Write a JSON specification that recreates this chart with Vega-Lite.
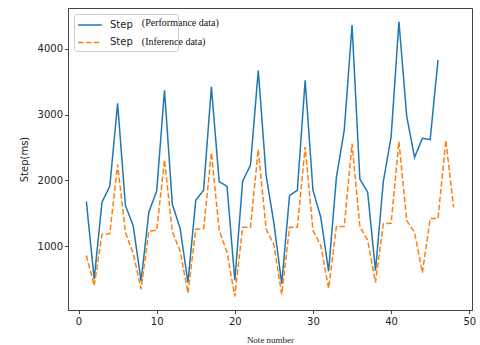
{
  "$schema": "https://vega.github.io/schema/vega-lite/v6.json",
  "width": 404,
  "height": 302,
  "autosize": {"type": "none"},
  "padding": {"left": 68, "top": 8, "right": 8, "bottom": 35},
  "background": "white",
  "config": {
    "view": {"stroke": "#444", "strokeWidth": 1},
    "axis": {
      "grid": false,
      "domainColor": "#444",
      "tickColor": "#444",
      "tickSize": 3.5,
      "labelFont": "DejaVu Sans",
      "labelFontSize": 10,
      "labelColor": "#222",
      "titleColor": "#222",
      "labelPadding": 2
    }
  },
  "layer": [
    {
      "data": {
        "values": [
          {"n": 1, "value": 1680, "series": "Performance"},
          {"n": 2, "value": 500, "series": "Performance"},
          {"n": 3, "value": 1670, "series": "Performance"},
          {"n": 4, "value": 1910, "series": "Performance"},
          {"n": 5, "value": 3170, "series": "Performance"},
          {"n": 6, "value": 1620, "series": "Performance"},
          {"n": 7, "value": 1310, "series": "Performance"},
          {"n": 8, "value": 470, "series": "Performance"},
          {"n": 9, "value": 1520, "series": "Performance"},
          {"n": 10, "value": 1840, "series": "Performance"},
          {"n": 11, "value": 3370, "series": "Performance"},
          {"n": 12, "value": 1640, "series": "Performance"},
          {"n": 13, "value": 1270, "series": "Performance"},
          {"n": 14, "value": 450, "series": "Performance"},
          {"n": 15, "value": 1700, "series": "Performance"},
          {"n": 16, "value": 1850, "series": "Performance"},
          {"n": 17, "value": 3420, "series": "Performance"},
          {"n": 18, "value": 1980, "series": "Performance"},
          {"n": 19, "value": 1910, "series": "Performance"},
          {"n": 20, "value": 480, "series": "Performance"},
          {"n": 21, "value": 1990, "series": "Performance"},
          {"n": 22, "value": 2230, "series": "Performance"},
          {"n": 23, "value": 3670, "series": "Performance"},
          {"n": 24, "value": 2080, "series": "Performance"},
          {"n": 25, "value": 1350, "series": "Performance"},
          {"n": 26, "value": 430, "series": "Performance"},
          {"n": 27, "value": 1770, "series": "Performance"},
          {"n": 28, "value": 1850, "series": "Performance"},
          {"n": 29, "value": 3520, "series": "Performance"},
          {"n": 30, "value": 1850, "series": "Performance"},
          {"n": 31, "value": 1440, "series": "Performance"},
          {"n": 32, "value": 620, "series": "Performance"},
          {"n": 33, "value": 2050, "series": "Performance"},
          {"n": 34, "value": 2760, "series": "Performance"},
          {"n": 35, "value": 4360, "series": "Performance"},
          {"n": 36, "value": 2020, "series": "Performance"},
          {"n": 37, "value": 1820, "series": "Performance"},
          {"n": 38, "value": 630, "series": "Performance"},
          {"n": 39, "value": 1980, "series": "Performance"},
          {"n": 40, "value": 2660, "series": "Performance"},
          {"n": 41, "value": 4410, "series": "Performance"},
          {"n": 42, "value": 2970, "series": "Performance"},
          {"n": 43, "value": 2350, "series": "Performance"},
          {"n": 44, "value": 2640, "series": "Performance"},
          {"n": 45, "value": 2620, "series": "Performance"},
          {"n": 46, "value": 3830, "series": "Performance"},
          {"n": 1, "value": 860, "series": "Inference"},
          {"n": 2, "value": 400, "series": "Inference"},
          {"n": 3, "value": 1180, "series": "Inference"},
          {"n": 4, "value": 1190, "series": "Inference"},
          {"n": 5, "value": 2240, "series": "Inference"},
          {"n": 6, "value": 1210, "series": "Inference"},
          {"n": 7, "value": 890, "series": "Inference"},
          {"n": 8, "value": 350, "series": "Inference"},
          {"n": 9, "value": 1230, "series": "Inference"},
          {"n": 10, "value": 1240, "series": "Inference"},
          {"n": 11, "value": 2310, "series": "Inference"},
          {"n": 12, "value": 1220, "series": "Inference"},
          {"n": 13, "value": 930, "series": "Inference"},
          {"n": 14, "value": 290, "series": "Inference"},
          {"n": 15, "value": 1260, "series": "Inference"},
          {"n": 16, "value": 1265, "series": "Inference"},
          {"n": 17, "value": 2420, "series": "Inference"},
          {"n": 18, "value": 1240, "series": "Inference"},
          {"n": 19, "value": 910, "series": "Inference"},
          {"n": 20, "value": 240, "series": "Inference"},
          {"n": 21, "value": 1290, "series": "Inference"},
          {"n": 22, "value": 1290, "series": "Inference"},
          {"n": 23, "value": 2470, "series": "Inference"},
          {"n": 24, "value": 1265, "series": "Inference"},
          {"n": 25, "value": 1020, "series": "Inference"},
          {"n": 26, "value": 270, "series": "Inference"},
          {"n": 27, "value": 1290, "series": "Inference"},
          {"n": 28, "value": 1290, "series": "Inference"},
          {"n": 29, "value": 2510, "series": "Inference"},
          {"n": 30, "value": 1240, "series": "Inference"},
          {"n": 31, "value": 1010, "series": "Inference"},
          {"n": 32, "value": 360, "series": "Inference"},
          {"n": 33, "value": 1300, "series": "Inference"},
          {"n": 34, "value": 1300, "series": "Inference"},
          {"n": 35, "value": 2560, "series": "Inference"},
          {"n": 36, "value": 1300, "series": "Inference"},
          {"n": 37, "value": 1090, "series": "Inference"},
          {"n": 38, "value": 450, "series": "Inference"},
          {"n": 39, "value": 1340, "series": "Inference"},
          {"n": 40, "value": 1350, "series": "Inference"},
          {"n": 41, "value": 2590, "series": "Inference"},
          {"n": 42, "value": 1390, "series": "Inference"},
          {"n": 43, "value": 1210, "series": "Inference"},
          {"n": 44, "value": 600, "series": "Inference"},
          {"n": 45, "value": 1420, "series": "Inference"},
          {"n": 46, "value": 1420, "series": "Inference"},
          {"n": 47, "value": 2610, "series": "Inference"},
          {"n": 48, "value": 1590, "series": "Inference"}
        ]
      },
      "mark": {"type": "line", "strokeWidth": 1.5, "clip": true},
      "encoding": {
        "x": {
          "field": "n",
          "type": "quantitative",
          "scale": {"domain": [-1.35, 50.35], "nice": false, "zero": false},
          "axis": {
            "values": [0, 10, 20, 30, 40, 50],
            "labelPadding": 3,
            "title": "Note number",
            "titleFont": "Liberation Serif",
            "titleFontSize": 9,
            "titleFontWeight": "normal",
            "titlePadding": 9
          }
        },
        "y": {
          "field": "value",
          "type": "quantitative",
          "scale": {"domain": [32, 4618], "nice": false, "zero": false},
          "axis": {
            "values": [1000, 2000, 3000, 4000],
            "format": "d",
            "title": "Step(ms)",
            "titleFont": "DejaVu Sans",
            "titleFontSize": 10,
            "titleFontWeight": "normal",
            "titlePadding": 8
          }
        },
        "color": {
          "field": "series",
          "type": "nominal",
          "scale": {"domain": ["Performance", "Inference"], "range": ["#1f77b4", "#ff7f0e"]},
          "legend": {
            "orient": "none",
            "legendX": 6,
            "legendY": 6,
            "title": null,
            "labelExpr": "'Step'",
            "labelFont": "DejaVu Sans",
            "labelFontSize": 10,
            "labelColor": "#222",
            "labelOffset": 12,
            "labelLimit": 400,
            "symbolType": "M-1.7,0H1.7M11.6,0",
            "symbolSize": 196,
            "symbolOffset": 5,
            "symbolStrokeWidth": 1.5,
            "symbolFillColor": "transparent",
            "rowPadding": 4.4,
            "padding": 3,
            "strokeColor": "#cccccc",
            "cornerRadius": 2
          }
        },
        "strokeDash": {
          "field": "series",
          "type": "nominal",
          "scale": {"domain": ["Performance", "Inference"], "range": [[1, 0], [5.5, 2.4]]},
          "legend": null
        }
      }
    },
    {
      "data": {
        "values": [
          {"x": 8.1, "y": 4395, "label": "(Performance data)"},
          {"x": 8.1, "y": 4105, "label": "(Inference data)"}
        ]
      },
      "mark": {"type": "text", "align": "left", "baseline": "middle", "font": "Liberation Serif", "fontSize": 10, "color": "#111"},
      "encoding": {
        "x": {"field": "x", "type": "quantitative"},
        "y": {"field": "y", "type": "quantitative"},
        "text": {"field": "label"}
      }
    }
  ]
}
